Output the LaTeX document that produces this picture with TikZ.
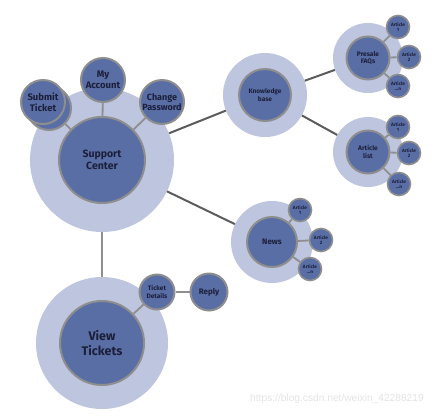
\documentclass[tikz,border=0pt]{standalone}
\usepackage{fontspec}
\setsansfont{Fira Sans}
\usepackage{xcolor}
\usetikzlibrary{positioning}
\definecolor{Hub}{HTML}{5A6EA6}
\definecolor{Halo}{HTML}{BDC5DF}
\definecolor{Rim}{HTML}{8E8E8E}
\definecolor{Link}{HTML}{5C5C5C}
\definecolor{Ink}{HTML}{1C1F3A}
\pgfdeclarelayer{back}
\pgfdeclarelayer{mid}
\pgfsetlayers{back,mid,main}
\newcommand{\fsz}[1]{\fontsize{#1pt}{\dimexpr#1pt*115/100\relax}\selectfont}

\begin{document}
\begin{tikzpicture}[
  x=1pt,y=-1pt,
  halo/.style={circle,fill=Halo,inner sep=0pt},
  hub/.style={circle,draw=Rim,line width=2pt,fill=Hub,inner sep=0pt,align=center,text=Ink,font=\sffamily\bfseries},
  leaf/.style={hub,line width=1.6pt,minimum size=23pt,font=\sffamily\bfseries\fsz{4.7}},
  link/.style={draw=Link,line width=2pt},
  spoke/.style={draw=Rim,line width=1.8pt}
]
  \useasboundingbox (0,0) rectangle (438,418);

  % halos
  \begin{pgfonlayer}{back}
    \node[halo,minimum size=144pt] (supportH) at (102,160) {};
    \node[halo,minimum size=84pt] (kbH) at (265,95) {};
    \node[halo,minimum size=70pt] (faqH) at (368,58) {};
    \node[halo,minimum size=70pt] (listH) at (368,152) {};
    \node[halo,minimum size=82pt] (newsH) at (272,242) {};
    \node[halo,minimum size=132pt] (viewH) at (102,343) {};
  \end{pgfonlayer}

  % hubs
  \node[hub,minimum size=86pt,font=\sffamily\bfseries\fsz{10.5}] (support) at (102,160) {Support\\Center};
  \node[hub,minimum size=52pt,font=\sffamily\bfseries\fsz{6.5}] (kb) at (265,95) {Knowledge\\base};
  \node[hub,minimum size=43pt,font=\sffamily\bfseries\fsz{6.6}] (faq) at (368,58) {Presale\\FAQs};
  \node[hub,minimum size=43pt,font=\sffamily\bfseries\fsz{6.6}] (list) at (368,152) {Article\\list};
  \node[hub,minimum size=50pt,font=\sffamily\bfseries\fsz{8}] (news) at (272,242) {News};
  \node[hub,minimum size=84pt,font=\sffamily\bfseries\fsz{12.5}] (view) at (102,343) {View\\Tickets};

  % small circles
  \node[hub,minimum size=44pt] (submitB) at (49,108) {};
  \node[hub,minimum size=44pt,font=\sffamily\bfseries\fsz{9.5}] (submit) at (43,102) {Submit\\Ticket};
  \node[hub,minimum size=44pt,font=\sffamily\bfseries\fsz{9.5}] (account) at (103,80) {My\\Account};
  \node[hub,minimum size=44pt,font=\sffamily\bfseries\fsz{9}] (password) at (162,102) {Change\\Password};
  \node[leaf] (faqA) at (398,27) {Article\\1};
  \node[leaf] (faqB) at (409,57) {Article\\2};
  \node[leaf] (faqN) at (398,86) {Article\\...n};
  \node[leaf] (listA) at (398,127) {Article\\1};
  \node[leaf] (listB) at (409,153) {Article\\2};
  \node[leaf] (listN) at (399,184) {Article\\...n};
  \node[leaf] (newsA) at (300,210) {Article\\1};
  \node[leaf] (newsB) at (321,240) {Article\\2};
  \node[leaf] (newsN) at (310,269) {Article\\...n};
  \node[hub,minimum size=35pt,font=\sffamily\bfseries\fsz{6.5}] (details) at (157,292) {Ticket\\Details};
  \node[hub,minimum size=37pt,font=\sffamily\bfseries\fsz{8}] (reply) at (209,292) {Reply};

  % connectors
  \begin{pgfonlayer}{mid}
    \draw[link] (supportH) -- (kbH);
    \draw[link] (supportH) -- (newsH);
    \draw[link] (kbH) -- (faqH);
    \draw[link] (kbH) -- (listH);
    \draw[spoke] (supportH) -- (viewH);
    \foreach \s in {submitB,account,password}
      \draw[spoke] (support) -- (\s);
    \foreach \s in {faqA,faqB,faqN}
      \draw[spoke] (faq) -- (\s);
    \foreach \s in {listA,listB,listN}
      \draw[spoke] (list) -- (\s);
    \foreach \s in {newsA,newsB,newsN}
      \draw[spoke] (news) -- (\s);
    \draw[spoke] (view) -- (details);
    \draw[spoke] (details) -- (reply);
  \end{pgfonlayer}

  \node[text=gray!22,font=\fontspec{Liberation Sans}\fsz{10.2}] (mark) at (337,399) {https://blog.csdn.net/weixin\_42288219};
\end{tikzpicture}
\end{document}
